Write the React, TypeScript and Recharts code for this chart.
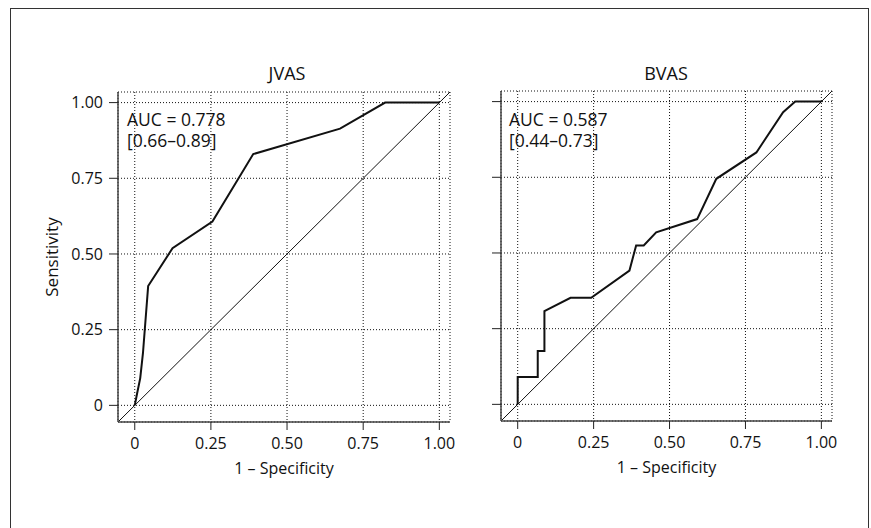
import React from 'react';
import { LineChart, Line, XAxis, YAxis, CartesianGrid, ReferenceLine } from 'recharts';

const axisTicks = [0, 0.25, 0.5, 0.75, 1];
const tickLabels = ['0', '0.25', '0.50', '0.75', '1.00'];
const domainLimits = [-0.055, 1.035];

const jvasFpr = [0, 0.008, 0.018, 0.027, 0.044, 0.124, 0.255, 0.389, 0.674, 0.822, 1];
const jvasTpr = [0, 0.041, 0.09, 0.173, 0.394, 0.519, 0.607, 0.83, 0.914, 1, 1];

const bvasFpr = [0, 0, 0.066, 0.066, 0.088, 0.088, 0.174, 0.242, 0.368, 0.39, 0.415, 0.456, 0.591, 0.654, 0.786, 0.874, 0.914, 1];
const bvasTpr = [0, 0.09, 0.09, 0.176, 0.176, 0.308, 0.352, 0.352, 0.442, 0.525, 0.525, 0.568, 0.612, 0.745, 0.832, 0.965, 1, 1];

const panels = [
  { title: 'JVAS', auc: 'AUC = 0.778', ci: '[0.66–0.89]', fpr: jvasFpr, tpr: jvasTpr },
  { title: 'BVAS', auc: 'AUC = 0.587', ci: '[0.44–0.73]', fpr: bvasFpr, tpr: bvasTpr },
];

const FONT = '"Open Sans", "DejaVu Sans", sans-serif';

const fmt = (v: number) => {
  const i = axisTicks.indexOf(v);
  return i >= 0 ? tickLabels[i] : String(v);
};

function Panel({ idx }: { idx: number }) {
  const p = panels[idx];
  const data = p.fpr.map((x, i) => ({ x, y: p.tpr[i] }));
  const isLeft = idx === 0;
  const chartLeft = isLeft ? 0 : 460;
  const width = isLeft ? 460 : 411;
  const margin = isLeft
    ? { top: 92, right: 10, bottom: 46, left: 30 }
    : { top: 91, right: 39, bottom: 47, left: 21 };
  const yWidth = isLeft ? 88 : 20;
  const axisLine = { stroke: '#444', strokeWidth: 1.5 };
  const tickLine = { stroke: '#222', strokeWidth: 1 };
  return (
    <div style={{ position: 'absolute', left: chartLeft, top: 0 }}>
      <LineChart width={width} height={528} margin={margin}>
        <CartesianGrid stroke="#111" strokeDasharray="1 2" strokeWidth={1} />
        <XAxis
          type="number"
          dataKey="x"
          domain={domainLimits}
          ticks={axisTicks}
          tickFormatter={fmt}
          allowDataOverflow
          height={60}
          tickSize={8}
          tickMargin={8}
          axisLine={axisLine}
          tickLine={tickLine}
          tick={{ fill: '#111', fontSize: 16, fontFamily: FONT }}
          label={{
            value: '1 – Specificity',
            position: 'insideBottom',
            offset: 8,
            style: { fill: '#111', fontSize: 16, fontFamily: FONT },
          }}
        />
        <YAxis
          type="number"
          dataKey="y"
          domain={domainLimits}
          ticks={axisTicks}
          tickFormatter={isLeft ? fmt : () => ''}
          allowDataOverflow
          width={yWidth}
          tickSize={9}
          tickMargin={6}
          axisLine={axisLine}
          tickLine={tickLine}
          tick={{ fill: '#111', fontSize: 16, fontFamily: FONT }}
          label={
            isLeft
              ? {
                  value: 'Sensitivity',
                  angle: -90,
                  position: 'insideLeft',
                  offset: 22,
                  style: { textAnchor: 'middle', fill: '#111', fontSize: 17, fontFamily: FONT },
                }
              : undefined
          }
        />
        <ReferenceLine
          segment={[
            { x: domainLimits[0], y: domainLimits[0] },
            { x: domainLimits[1], y: domainLimits[1] },
          ]}
          stroke="#111"
          strokeWidth={1}
          ifOverflow="visible"
        />
        <Line
          data={data}
          dataKey="y"
          type="linear"
          stroke="#111"
          strokeWidth={2}
          dot={false}
          isAnimationActive={false}
        />
      </LineChart>
    </div>
  );
}

export default function App() {
  const textStyle: React.CSSProperties = {
    position: 'absolute',
    fontFamily: FONT,
    color: '#111',
    whiteSpace: 'pre',
  };
  return (
    <div
      style={{
        position: 'absolute',
        left: 0,
        top: 0,
        width: 871,
        height: 528,
        overflow: 'hidden',
        background: '#fff',
      }}
    >
      <div
        style={{
          position: 'absolute',
          left: 10,
          top: 8,
          width: 857,
          height: 540,
          border: '1.5px solid #333',
          borderBottom: 'none',
        }}
      />
      <Panel idx={0} />
      <Panel idx={1} />
      <div style={{ ...textStyle, left: 187, top: 61, width: 200, textAlign: 'center', fontSize: 18, lineHeight: '24px' }}>
        {panels[0].title}
      </div>
      <div style={{ ...textStyle, left: 566, top: 61, width: 200, textAlign: 'center', fontSize: 18, lineHeight: '24px' }}>
        {panels[1].title}
      </div>
      <div style={{ ...textStyle, left: 127, top: 109, fontSize: 17.5, lineHeight: '21px' }}>
        {panels[0].auc + '\n' + panels[0].ci}
      </div>
      <div style={{ ...textStyle, left: 509, top: 109, fontSize: 17.5, lineHeight: '21px' }}>
        {panels[1].auc + '\n' + panels[1].ci}
      </div>
    </div>
  );
}
